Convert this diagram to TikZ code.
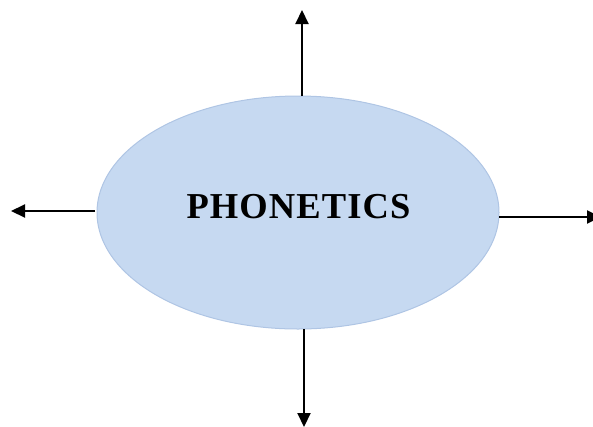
\documentclass[tikz,border=0pt]{standalone}
\usepackage{fontspec}
\setmainfont{Liberation Serif}
\newfontfamily\titlefont[LetterSpace=3]{Liberation Serif}
\usetikzlibrary{arrows.meta,shapes.geometric}
\definecolor{ellfill}{HTML}{C6D9F1}
\definecolor{elldraw}{HTML}{AFC5E4}
\tikzset{
  conn/.style={line width=2pt,-{Triangle[length=14pt,width=13pt]}},
  bubble/.style={ellipse,fill=ellfill,draw=elldraw,line width=1pt,minimum width=402pt,minimum height=233pt,inner sep=0pt}
}
\begin{document}
\begin{tikzpicture}[x=1pt,y=-1pt]
\useasboundingbox (0,0) rectangle (593,426);
\clip (0,0) rectangle (593,426);
\node[bubble] (e) at (298,212.5) {};
\node[font=\titlefont\bfseries\fontsize{36.5}{40}\selectfont] (t) at (298.5,207) {PHONETICS};
\coordinate (u0) at (302,96);
\coordinate (u1) at (302,10);
\coordinate (l0) at (95,211);
\coordinate (l1) at (11,211);
\coordinate (r0) at (499,217);
\coordinate (r1) at (601,217);
\coordinate (d0) at (304,329);
\coordinate (d1) at (304,427);
\draw[conn] (u0) -- (u1);
\draw[conn] (l0) -- (l1);
\draw[conn] (r0) -- (r1);
\draw[conn] (d0) -- (d1);
\end{tikzpicture}
\end{document}
